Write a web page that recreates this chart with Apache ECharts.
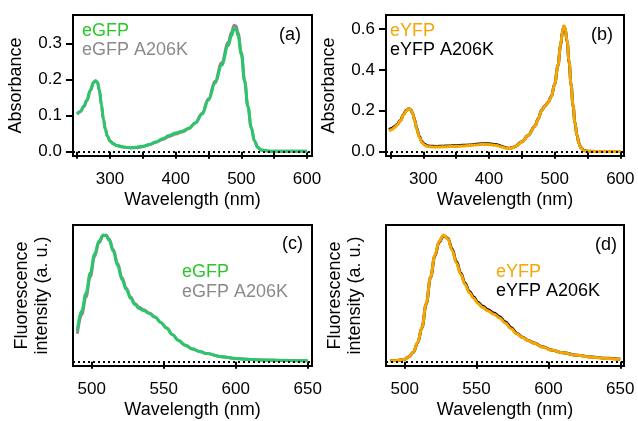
<!DOCTYPE html>
<html>
<head>
<meta charset="utf-8">
<script src="https://cdn.jsdelivr.net/npm/echarts@6/dist/echarts.min.js"></script>
<style>
  html, body { margin: 0; padding: 0; background: #fff; }
  #main { width: 638px; height: 421px; }
</style>
</head>
<body>
<div id="main"></div>
<script>
// (a) absorbance, eGFP / eGFP A206K
var absGfpNm = [250, 255, 260, 265, 270, 275, 278, 281, 284, 287, 290, 293, 296, 300, 305, 310, 320, 330, 340, 350, 360, 370, 380, 390, 400, 410, 420, 430, 440, 450, 460, 470, 480, 485, 489, 492, 495, 500, 505, 510, 515, 520, 525, 530, 540, 550, 575, 600]
var absGfp = [0.105, 0.112, 0.126, 0.143, 0.170, 0.192, 0.197, 0.192, 0.170, 0.130, 0.090, 0.062, 0.043, 0.030, 0.022, 0.017, 0.013, 0.011, 0.012, 0.015, 0.020, 0.027, 0.036, 0.045, 0.052, 0.057, 0.065, 0.080, 0.104, 0.143, 0.190, 0.240, 0.295, 0.322, 0.341, 0.340, 0.322, 0.270, 0.195, 0.125, 0.068, 0.030, 0.012, 0.005, 0.002, 0.001, 0.001, 0.001]
var absGfpK = [0.104, 0.111, 0.125, 0.143, 0.170, 0.192, 0.197, 0.192, 0.170, 0.130, 0.090, 0.062, 0.043, 0.030, 0.022, 0.017, 0.013, 0.011, 0.011, 0.014, 0.019, 0.026, 0.034, 0.042, 0.049, 0.055, 0.064, 0.080, 0.106, 0.147, 0.196, 0.247, 0.303, 0.332, 0.351, 0.349, 0.330, 0.276, 0.198, 0.126, 0.068, 0.030, 0.012, 0.005, 0.002, 0.001, 0.001, 0.001]

// (b) absorbance, eYFP / eYFP A206K
var absYfpNm = [248, 252, 256, 260, 265, 270, 274, 278, 281, 284, 287, 290, 294, 298, 302, 306, 310, 320, 330, 340, 350, 360, 370, 380, 390, 400, 410, 420, 425, 430, 435, 440, 450, 460, 470, 475, 480, 485, 490, 495, 500, 505, 509, 512, 514, 516, 519, 522, 525, 528, 531, 534, 537, 540, 545, 550, 575, 600]
var absYfp = [0.100, 0.108, 0.118, 0.130, 0.150, 0.180, 0.200, 0.210, 0.205, 0.185, 0.150, 0.110, 0.070, 0.045, 0.032, 0.026, 0.024, 0.023, 0.024, 0.025, 0.026, 0.028, 0.030, 0.033, 0.036, 0.035, 0.031, 0.023, 0.018, 0.016, 0.018, 0.025, 0.048, 0.080, 0.125, 0.160, 0.200, 0.222, 0.240, 0.270, 0.330, 0.420, 0.520, 0.590, 0.615, 0.605, 0.540, 0.440, 0.330, 0.225, 0.140, 0.080, 0.040, 0.018, 0.005, 0.002, 0.001, 0.001]
var absYfpK = [0.108, 0.114, 0.122, 0.133, 0.152, 0.182, 0.202, 0.210, 0.205, 0.186, 0.152, 0.113, 0.074, 0.049, 0.036, 0.029, 0.027, 0.026, 0.027, 0.028, 0.029, 0.031, 0.033, 0.036, 0.039, 0.039, 0.035, 0.026, 0.020, 0.017, 0.019, 0.026, 0.049, 0.081, 0.126, 0.161, 0.201, 0.223, 0.241, 0.271, 0.330, 0.420, 0.518, 0.588, 0.612, 0.602, 0.538, 0.438, 0.329, 0.225, 0.141, 0.081, 0.041, 0.019, 0.006, 0.002, 0.001, 0.001]

// (c) fluorescence, eGFP / eGFP A206K (normalised)
var fluGfpNm = [490, 493, 496, 499, 502, 505, 508, 510, 512, 515, 518, 521, 524, 527, 530, 533, 536, 540, 544, 548, 552, 556, 560, 565, 570, 575, 580, 590, 600, 610, 620, 635, 650]
var fluGfp = [0.25, 0.40, 0.54, 0.70, 0.85, 0.95, 1.00, 0.995, 0.96, 0.87, 0.76, 0.65, 0.57, 0.50, 0.45, 0.42, 0.405, 0.38, 0.35, 0.31, 0.265, 0.215, 0.17, 0.13, 0.10, 0.08, 0.064, 0.040, 0.026, 0.018, 0.013, 0.009, 0.007]
var fluGfpK = [0.22, 0.37, 0.51, 0.67, 0.83, 0.94, 0.995, 1.00, 0.97, 0.885, 0.775, 0.665, 0.58, 0.51, 0.46, 0.43, 0.41, 0.385, 0.352, 0.31, 0.265, 0.215, 0.17, 0.13, 0.10, 0.08, 0.064, 0.040, 0.026, 0.018, 0.013, 0.009, 0.007]

// (d) fluorescence, eYFP / eYFP A206K (normalised)
var fluYfpNm = [490, 495, 500, 503, 506, 509, 512, 515, 518, 521, 524, 527, 530, 533, 536, 539, 542, 545, 548, 551, 554, 558, 562, 566, 570, 574, 578, 582, 586, 590, 596, 602, 610, 620, 630, 640, 650]
var fluYfp = [0.008, 0.010, 0.020, 0.040, 0.075, 0.15, 0.27, 0.46, 0.67, 0.84, 0.95, 1.00, 0.97, 0.88, 0.78, 0.69, 0.61, 0.545, 0.50, 0.46, 0.43, 0.40, 0.375, 0.345, 0.305, 0.26, 0.22, 0.19, 0.165, 0.145, 0.115, 0.092, 0.070, 0.050, 0.036, 0.026, 0.019]
var fluYfpK = [0.008, 0.010, 0.020, 0.040, 0.074, 0.148, 0.268, 0.455, 0.665, 0.835, 0.945, 0.995, 0.975, 0.89, 0.79, 0.70, 0.62, 0.555, 0.51, 0.47, 0.44, 0.41, 0.385, 0.355, 0.315, 0.27, 0.225, 0.193, 0.167, 0.147, 0.117, 0.093, 0.071, 0.051, 0.037, 0.027, 0.020]

// tick positions
var absTicksX = [250, 300, 350, 400, 450, 500, 550, 600]
var absLabelsX = [300, 400, 500, 600]
var absGfpTicksY = [0, 0.1, 0.2, 0.3]
var absYfpTicksY = [0, 0.2, 0.4, 0.6]
var fluTicksX = [500, 550, 600, 650]

var font = "'Liberation Sans', Arial, Helvetica, sans-serif"
var green = '#2cc66a'
var greenText = '#2cc62c'
var gray = '#8a8a8a'
var orange = '#f7a600'

function zip(xs, ys) {
  return xs.map(function (x, i) {
    return [x, ys[i]]
  })
}

function xAxisCfg(idx, min, max, ticks, labels) {
  return {
    gridIndex: idx,
    type: 'value',
    min: min,
    max: max,
    axisLine: { show: false },
    splitLine: { show: false },
    axisTick: {
      show: true,
      length: 7,
      customValues: ticks,
      lineStyle: { color: '#000', width: 2 }
    },
    axisLabel: {
      customValues: labels,
      margin: 15,
      color: '#000',
      fontSize: 17,
      fontFamily: font
    },
    name: 'Wavelength (nm)',
    nameLocation: 'middle',
    nameGap: 35,
    nameTextStyle: { color: '#000', fontSize: 18, fontFamily: font }
  }
}

function yAxisCfg(idx, min, max, ticks, name, gap) {
  var show = ticks.length > 0
  return {
    gridIndex: idx,
    type: 'value',
    min: min,
    max: max,
    axisLine: { show: false },
    splitLine: { show: false },
    axisTick: {
      show: show,
      length: 7,
      customValues: show ? ticks : undefined,
      lineStyle: { color: '#000', width: 2 }
    },
    axisLabel: {
      show: show,
      customValues: show ? ticks : undefined,
      margin: 11,
      color: '#000',
      fontSize: 17,
      fontFamily: font,
      formatter: function (v) {
        return v.toFixed(1)
      }
    },
    name: name,
    nameLocation: 'middle',
    nameGap: gap,
    nameRotate: 90,
    nameTextStyle: { color: '#000', fontSize: 18, fontFamily: font, lineHeight: 20 }
  }
}

function lineCfg(idx, data, color, withBase) {
  var s = {
    type: 'line',
    xAxisIndex: idx,
    yAxisIndex: idx,
    data: data,
    showSymbol: false,
    smooth: 0.4,
    smoothMonotone: 'x',
    silent: true,
    lineStyle: { color: color, width: 3 }
  }
  if (withBase) {
    s.markLine = {
      silent: true,
      symbol: ['none', 'none'],
      label: { show: false },
      lineStyle: { color: '#000', type: [2, 3], width: 2 },
      data: [{ yAxis: 0 }]
    }
  }
  return s
}

function txt(x, y, text, color, align) {
  return {
    type: 'text',
    x: x,
    y: y,
    style: {
      text: text,
      fill: color,
      font: '18px ' + font,
      align: align || 'left',
      verticalAlign: 'middle'
    }
  }
}

var gridBox = { show: true, borderColor: '#000', borderWidth: 2 }
var chart = echarts.init(document.getElementById('main'))
var option = {
  animation: false,
  grid: [
    Object.assign({ left: 73, top: 15, width: 239, height: 141 }, gridBox),
    Object.assign({ left: 386, top: 15, width: 238, height: 141 }, gridBox),
    Object.assign({ left: 73, top: 225, width: 239, height: 141 }, gridBox),
    Object.assign({ left: 386, top: 225, width: 238, height: 141 }, gridBox)
  ],
  xAxis: [
    xAxisCfg(0, 243.7, 607.6, absTicksX, absLabelsX),
    xAxisCfg(1, 243.2, 605.6, absTicksX, absLabelsX),
    xAxisCfg(2, 487, 653, fluTicksX, fluTicksX),
    xAxisCfg(3, 487, 652.6, fluTicksX, fluTicksX)
  ],
  yAxis: [
    yAxisCfg(0, -0.012, 0.3797, absGfpTicksY, 'Absorbance', 47),
    yAxisCfg(1, -0.021, 0.668, absYfpTicksY, 'Absorbance', 47),
    yAxisCfg(2, -0.034, 1.079, [], 'Fluorescence\nintensity (a. u.)', 21),
    yAxisCfg(3, -0.034, 1.079, [], 'Fluorescence\nintensity (a. u.)', 21)
  ],
  series: [
    lineCfg(0, zip(absGfpNm, absGfpK), gray, true),
    lineCfg(0, zip(absGfpNm, absGfp), green),
    lineCfg(1, zip(absYfpNm, absYfpK), '#111', true),
    lineCfg(1, zip(absYfpNm, absYfp), orange),
    lineCfg(2, zip(fluGfpNm, fluGfpK), gray, true),
    lineCfg(2, zip(fluGfpNm, fluGfp), green),
    lineCfg(3, zip(fluYfpNm, fluYfpK), '#111', true),
    lineCfg(3, zip(fluYfpNm, fluYfp), orange)
  ],
  graphic: [
    txt(82, 31, 'eGFP', greenText),
    txt(82, 50, 'eGFP A206K', gray),
    txt(301, 35, '(a)', '#000', 'right'),
    txt(390, 31, 'eYFP', orange),
    txt(390, 50, 'eYFP A206K', '#000'),
    txt(613, 35, '(b)', '#000', 'right'),
    txt(182, 272, 'eGFP', greenText),
    txt(182, 292, 'eGFP A206K', gray),
    txt(303, 244, '(c)', '#000', 'right'),
    txt(496, 272, 'eYFP', orange),
    txt(496, 291, 'eYFP A206K', '#000'),
    txt(617, 245, '(d)', '#000', 'right')
  ]
}
chart.setOption(option)
</script>
</body>
</html>
